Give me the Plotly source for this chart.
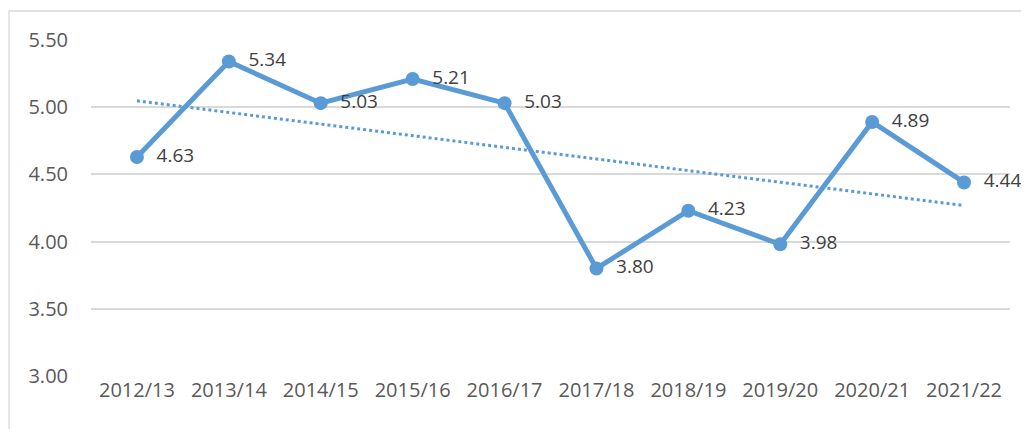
import numpy as np
import plotly.graph_objects as go

categories = ["2012/13", "2013/14", "2014/15", "2015/16", "2016/17",
              "2017/18", "2018/19", "2019/20", "2020/21", "2021/22"]
values = [4.63, 5.34, 5.03, 5.21, 5.03, 3.80, 4.23, 3.98, 4.89, 4.44]
y_ticks = [3.0, 3.5, 4.0, 4.5, 5.0, 5.5]

color = "#5B9BD5"

# linear trendline (least squares, like Excel)
xi = np.arange(len(values))
slope, intercept = np.polyfit(xi, values, 1)
trend = [intercept, intercept + slope * (len(values) - 1)]

fig = go.Figure()
fig.add_trace(go.Scatter(
    x=[categories[0], categories[-1]], y=trend, mode="lines",
    line=dict(color=color, width=3, dash="dot"), hoverinfo="skip",
    showlegend=False))
fig.add_trace(go.Scatter(
    x=categories, y=values, mode="lines+markers+text",
    line=dict(color=color, width=5),
    marker=dict(color=color, size=14),
    text=["  " + f"{v:.2f}" for v in values],
    textposition="middle right",
    textfont=dict(family="Open Sans", size=19, color="#404040"),
    cliponaxis=False, showlegend=False))

# page body offset of ~8px is compensated in the margins
L, R, T, B = 83, 27, 32, 61
pw, ph = 1029 - L - R, 429 - T - B

fig.update_layout(
    width=1029, height=429,
    margin=dict(l=L, r=R, t=T, b=B),
    paper_bgcolor="white", plot_bgcolor="white",
    font=dict(family="Open Sans", size=20, color="#595959"),
    xaxis=dict(type="category", categoryorder="array", categoryarray=categories,
               range=[-0.5, 9.5], showgrid=False,
               showline=False, zeroline=False, ticks="",
               tickfont=dict(size=20, color="#595959")),
    yaxis=dict(range=[3.0, 5.5], tickvals=y_ticks,
               ticktext=[f"{t:.2f}" for t in y_ticks],
               showgrid=True, gridcolor="#D9D9D9", gridwidth=1.6,
               zeroline=False, showline=False, ticks="",
               ticklabelstandoff=22,
               tickfont=dict(size=20, color="#595959")),
    shapes=[dict(type="rect", xref="paper", yref="paper",
                 x0=(1 - L) / pw, x1=1.2, y0=-0.5, y1=1 + (T - 3) / ph,
                 line=dict(color="#D9D9D9", width=1.3), layer="below")],
)

fig.write_html("out.html")
